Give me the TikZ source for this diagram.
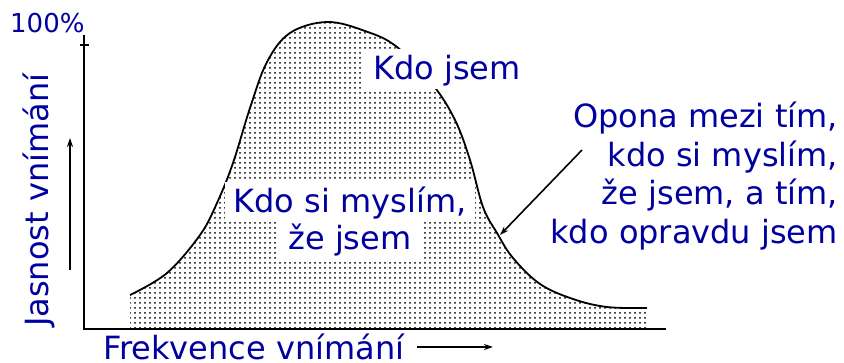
\documentclass[tikz,border=0pt]{standalone}
\usepackage{fontspec}
\setmainfont{DejaVu Sans}
\usetikzlibrary{
  arrows.meta,
  patterns.meta,
}
\definecolor{labelblue}{RGB}{0,0,160}
\newcommand{\bigtext}{\fontsize{32}{38.5}\selectfont}
\newcommand{\smalltext}{\fontsize{26}{30}\selectfont}
\tikzset{
  axisline/.style={line width=2pt, black},
  curveline/.style={line width=1.8pt, black},
  stipple/.style={pattern={Dots[distance=5pt, radius=1pt]}, pattern color=black},
  bluelabel/.style={text=labelblue, font=\bigtext, inner sep=0pt},
  whitelabel/.style={
    bluelabel, fill=white, inner xsep=9pt, inner ysep=3pt,
    text height=28pt, text depth=6pt
  },
  thinarrow/.style={-{Stealth[length=9pt, width=6pt]}, line width=1.6pt},
}

\begin{document}
\begin{tikzpicture}[x=1pt, y=-1pt]
  \useasboundingbox (0,0) rectangle (844,363);

  % ── Stippled hump ──
  \fill[stipple] (130,329) -- plot[smooth, tension=0.6] coordinates {
    (130,295) (167,273) (200,235) (217,203) (233,163) (250,108) (267,62)
    (290,33) (327,22) (365,31) (397,47) (433,85) (455,120) (470,160)
    (483,207) (497,233) (513,258) (540,284) (573,299) (607,307) (647,308)}
    -- (647,329) -- cycle;
  \draw[curveline] plot[smooth, tension=0.6] coordinates {
    (130,295) (167,273) (200,235) (217,203) (233,163) (250,108) (267,62)
    (290,33) (327,22) (365,31) (397,47) (433,85) (455,120) (470,160)
    (483,207) (497,233) (513,258) (540,284) (573,299) (607,307) (647,308)};

  % ── Axes ──
  \coordinate (origin) at (84,329);
  \coordinate (ytop)   at (84,35);
  \coordinate (xend)   at (666,329);
  \coordinate (ytick)  at (84,45);
  \draw[axisline] (ytop) -- (origin) -- (xend);
  \draw[axisline] ([xshift=-4pt]ytick) -- ([xshift=5pt]ytick);

  % ── Axis labels ──
  \node[bluelabel, font=\smalltext, anchor=base west] (full) at (10,33) {100\%};
  \node[bluelabel, rotate=90, anchor=base west] (ylabel) at (48,327) {Jasnost vnímání};
  \node[bluelabel, anchor=base west] (xlabel) at (103,360) {Frekvence vnímání};

  \coordinate (yarrowfrom) at (70,270);
  \coordinate (yarrowto)   at (70,138);
  \coordinate (xarrowfrom) at (417,347);
  \coordinate (xarrowto)   at (493,347);
  \draw[thinarrow] (yarrowfrom) -- (yarrowto);
  \draw[thinarrow] (xarrowfrom) -- (xarrowto);

  % ── Labels on the hump ──
  \node[whitelabel, anchor=base west] (whoiam) at (364,80) {Kdo jsem};
  \node[whitelabel, anchor=base] (think1) at (350,213) {Kdo si myslím,};
  \node[whitelabel, anchor=base] (think2) at (350,250) {že jsem};

  % ── Curtain ──
  \node[bluelabel, align=right, anchor=north east] (curtain) at (838,102)
    {Opona mezi tím,\\ kdo si myslím,\\ že jsem, a tím,\\ kdo opravdu jsem};
  \coordinate (curtainfrom) at (582,150);
  \coordinate (curtainto)   at (500,235);
  \draw[thinarrow] (curtainfrom) -- (curtainto);

\end{tikzpicture}
\end{document}
